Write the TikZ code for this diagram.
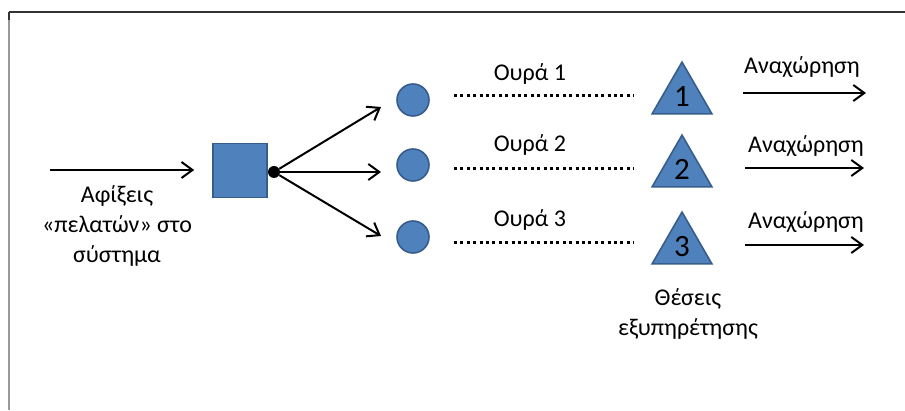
\documentclass[tikz,border=0pt]{standalone}
\usepackage{fontspec}
\setmainfont{Carlito}
\usetikzlibrary{arrows.meta,shapes.geometric}
\definecolor{qfill}{HTML}{4F81BD}
\definecolor{qedge}{HTML}{385D8A}
\tikzset{
  flow/.style={line width=2pt, -{Straight Barb[length=11pt,width=16pt,line width=2pt]}},
  queueline/.style={line width=3pt, dash pattern=on 3pt off 3.4pt},
  server/.style={regular polygon, regular polygon sides=3, minimum size=69pt,
    inner sep=0pt, fill=qfill, draw=qedge, line width=1.6pt, font=\fontsize{31}{34}\selectfont},
  waitpos/.style={circle, minimum size=32pt, inner sep=0pt, fill=qfill, draw=qedge, line width=1.6pt},
  label/.style={font=\fontsize{24}{30}\selectfont, inner sep=0pt, align=center},
}
\begin{document}
\begin{tikzpicture}[x=1pt,y=-1pt]
\useasboundingbox (0,0) rectangle (905,411);
% frame
\draw[line width=1.2pt, color=black!40] (9,12) -- (9,410);
\draw[line width=1.6pt, color=black!80] (9,12) -- (905,12);
\draw[line width=1.6pt, color=black!80] (9,12) -- (9,20);

% arrivals
\node[draw=qedge, fill=qfill, line width=1.6pt, minimum size=54pt, inner sep=0pt] (disp) at (240,170.5) {};
\coordinate (src) at (50,170);
\draw[flow, shorten >=18pt] (src) -- (disp.west |- src);
\node[label] (arrtxt) at (117,226) {Αφίξεις\\«πελατών» στο\\σύστημα};

% splitting point
\node[circle, fill=black, minimum size=12pt, inner sep=0pt] (split) at (274,172) {};
\coordinate (t1) at (381,107);
\coordinate (t2) at (381,172);
\coordinate (t3) at (381,236);
\draw[flow] (split) -- (t1);
\draw[flow] (split) -- (t2);
\draw[flow] (split) -- (t3);

% waiting positions
\node[waitpos] (w1) at (413,100) {};
\node[waitpos] (w2) at (413,165) {};
\node[waitpos] (w3) at (413,237) {};

% queues
\coordinate (q1a) at (454,96);  \coordinate (q1b) at (634,96);
\coordinate (q2a) at (454,169); \coordinate (q2b) at (634,169);
\coordinate (q3a) at (454,243); \coordinate (q3b) at (634,243);
\draw[queueline] (q1a) -- (q1b);
\draw[queueline] (q2a) -- (q2b);
\draw[queueline] (q3a) -- (q3b);
\node[label] (ql1) at (530,74) {Ουρά 1};
\node[label] (ql2) at (530,145) {Ουρά 2};
\node[label] (ql3) at (530,220) {Ουρά 3};

% servers
\node[server] (s1) at (682,96.6) {1};
\node[server] (s2) at (682,169.6) {2};
\node[server] (s3) at (682,246.6) {3};
\node[label] (stxt) at (688,314) {Θέσεις\\εξυπηρέτησης};

% departures
\coordinate (d1a) at (743,93);  \coordinate (d1b) at (866,93);
\coordinate (d2a) at (745,168); \coordinate (d2b) at (864,168);
\coordinate (d3a) at (745,245); \coordinate (d3b) at (864,245);
\draw[flow] (d1a) -- (d1b);
\draw[flow] (d2a) -- (d2b);
\draw[flow] (d3a) -- (d3b);
\node[label] (dl1) at (802,67) {Αναχώρηση};
\node[label] (dl2) at (806,146) {Αναχώρηση};
\node[label] (dl3) at (806,222) {Αναχώρηση};
\end{tikzpicture}
\end{document}
